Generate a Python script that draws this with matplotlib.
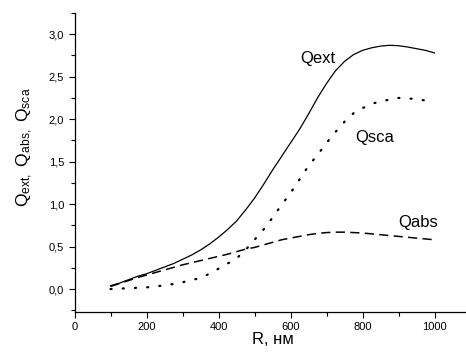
import matplotlib
matplotlib.use('Agg')
import matplotlib.pyplot as plt
from matplotlib.ticker import MultipleLocator, FuncFormatter

plt.rcParams['font.family'] = ['Liberation Sans', 'DejaVu Sans']
plt.rcParams['mathtext.default'] = 'regular'

# particle radius, nm
R = [100, 125, 150, 175, 200, 225, 250, 275, 300, 325, 350, 375, 400,
     425, 450, 475, 500, 525, 550, 575, 600, 625, 650, 675, 700, 725,
     750, 775, 800, 825, 850, 875, 900, 925, 950, 975, 1000]
# efficiency factors
Qext = [0.04, 0.07, 0.11, 0.15, 0.18, 0.22, 0.26, 0.30, 0.35, 0.40, 0.46,
        0.53, 0.61, 0.70, 0.80, 0.93, 1.07, 1.23, 1.40, 1.56, 1.72, 1.88,
        2.06, 2.25, 2.42, 2.57, 2.68, 2.76, 2.81, 2.84, 2.86, 2.87, 2.865,
        2.85, 2.83, 2.81, 2.78]
Qsca = [0.00, 0.005, 0.01, 0.015, 0.02, 0.03, 0.045, 0.06, 0.08, 0.105,
        0.13, 0.18, 0.24, 0.30, 0.36, 0.46, 0.58, 0.70, 0.84, 0.99, 1.13,
        1.29, 1.45, 1.58, 1.72, 1.85, 1.97, 2.07, 2.13, 2.18, 2.21, 2.23,
        2.25, 2.245, 2.235, 2.22, 2.20]
Qabs = [0.03, 0.065, 0.10, 0.135, 0.165, 0.195, 0.225, 0.255, 0.285, 0.31,
        0.335, 0.36, 0.385, 0.41, 0.44, 0.47, 0.49, 0.52, 0.55, 0.58, 0.60,
        0.62, 0.64, 0.655, 0.665, 0.67, 0.67, 0.665, 0.66, 0.65, 0.64, 0.63,
        0.62, 0.61, 0.60, 0.59, 0.58]

fig = plt.figure(figsize=(4.66, 3.57), dpi=100)
ax = fig.add_axes([74.5 / 466, 45 / 357, 396 / 466, 299 / 357])

ax.plot(R, Qext, color='black', lw=0.9, ls='-')
ax.plot(R, Qsca, color='black', lw=1.6, ls=(0, (0.5, 5.0)), dash_capstyle='round')
ax.plot(R, Qabs, color='black', lw=1.1, ls=(0, (6, 3.5)))

ax.text(626, 2.72, 'Qext', fontsize=12, va='center', ha='left')
ax.text(779, 1.78, 'Qsca', fontsize=12, va='center', ha='left')
ax.text(899, 0.78, 'Qabs', fontsize=12, va='center', ha='left')

ax.set_xlim(0, 1100)
ax.set_ylim(-0.27, 3.25)
ax.xaxis.set_major_locator(MultipleLocator(200))
ax.xaxis.set_minor_locator(MultipleLocator(100))
ax.yaxis.set_major_locator(MultipleLocator(0.5))
ax.yaxis.set_minor_locator(MultipleLocator(0.25))
ax.yaxis.set_major_formatter(FuncFormatter(lambda v, p: ('%.1f' % v).replace('.', ',')))

for s in ['top', 'right']:
    ax.spines[s].set_visible(False)
ax.spines['left'].set_linewidth(0.9)
ax.spines['bottom'].set_linewidth(0.9)
ax.tick_params(which='major', direction='out', length=4, width=0.8, labelsize=8, pad=3.5)
ax.tick_params(which='minor', direction='out', length=3, width=0.8)

ax.set_xlabel('R, нм', fontsize=12)
ax.xaxis.set_label_coords(0.5, -0.068)
ax.set_ylabel(r'Q$_{ext,}$ Q$_{abs,}$ Q$_{sca}$', fontsize=12.5)
ax.yaxis.set_label_coords(-0.10, 0.55)

fig.savefig('out.png', dpi=100)
